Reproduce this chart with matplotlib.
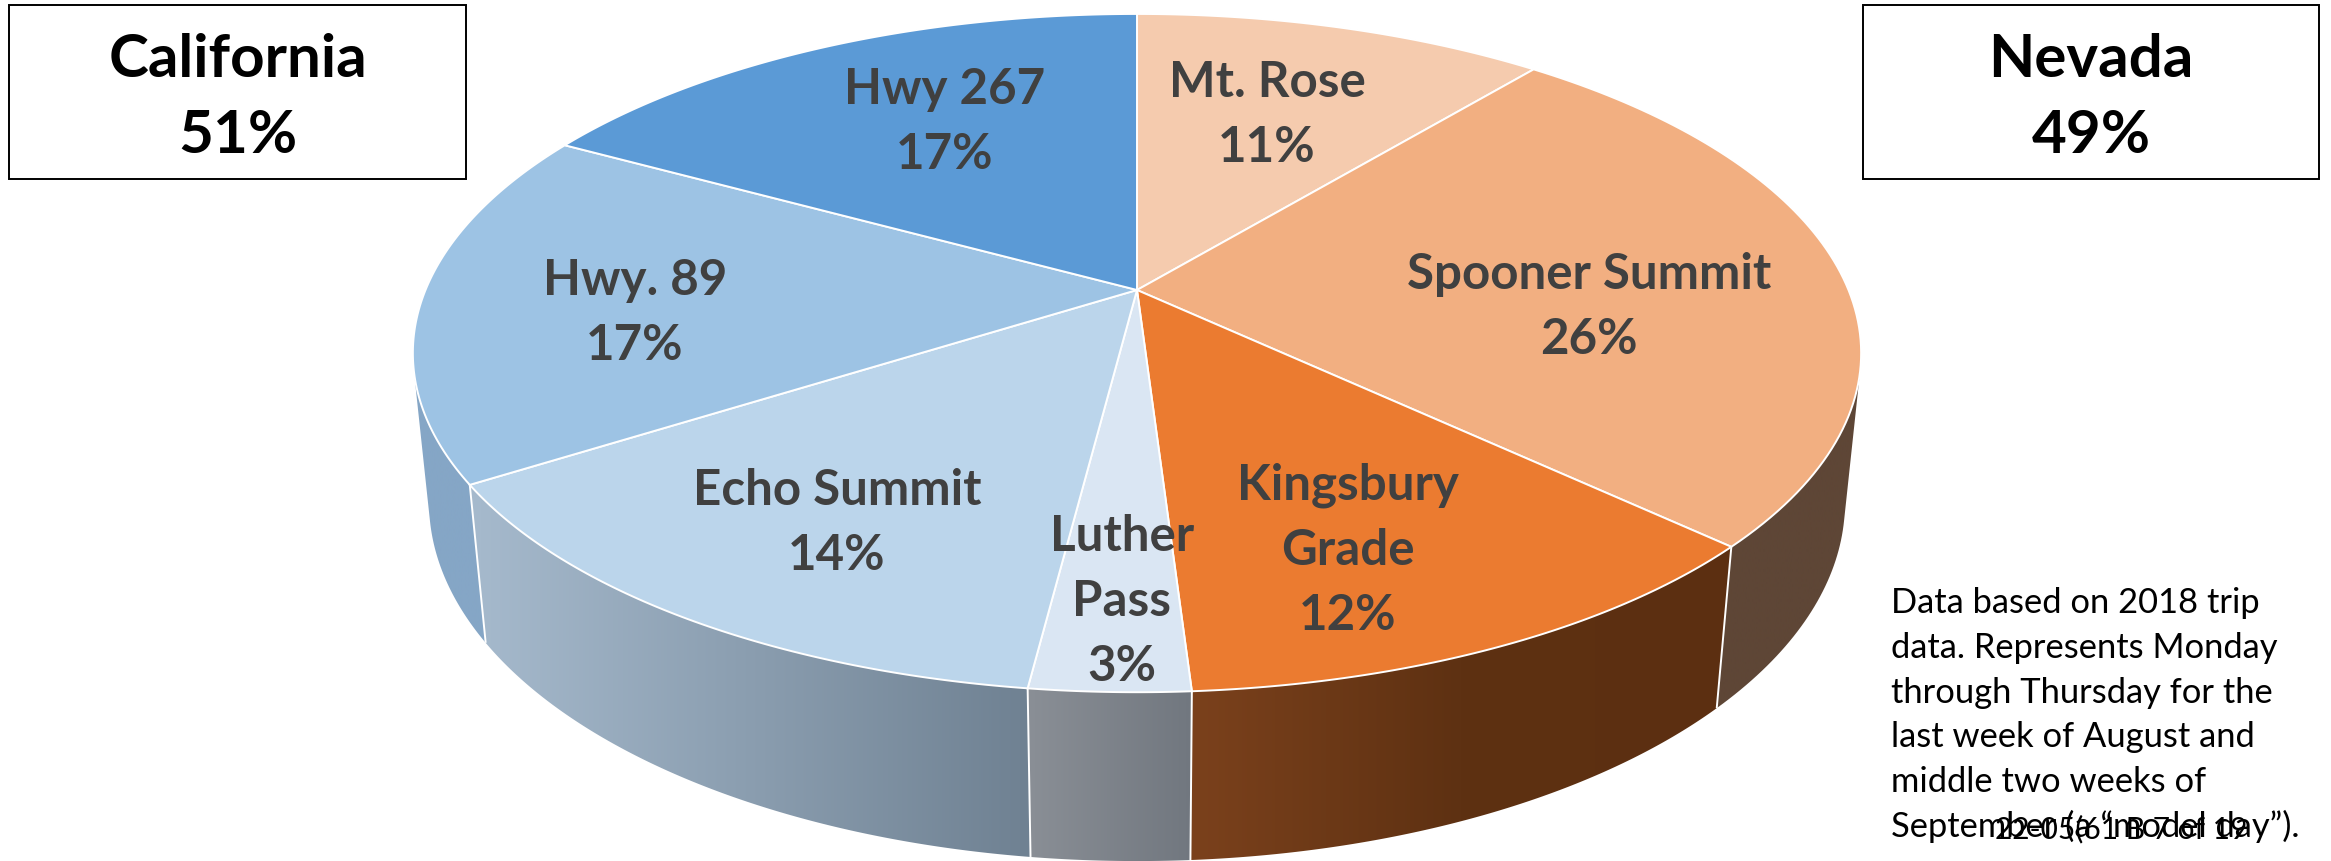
import numpy as np
import matplotlib
matplotlib.use("Agg")
import matplotlib.pyplot as plt
from matplotlib.colors import LinearSegmentedColormap
from matplotlib.patches import Polygon, Rectangle

# ---- data ----
routes = ["Mt. Rose", "Spooner Summit", "Kingsbury\nGrade", "Luther\nPass",
          "Echo Summit", "Hwy. 89", "Hwy 267"]
shares = [11, 26, 12, 3, 14, 17, 17]
state_names = ["California", "Nevada"]
state_shares = [51, 49]
note_lines = ["Data based on 2018 trip", "data. Represents Monday",
              "through Thursday for the", "last week of August and",
              "middle two weeks of", "September (a \u201cmodel day\u201d)."]
page_mark = "22-05(61 B 7 of 19"

# ---- styles ----
top_colors = ["#F5CBAE", "#F2AF81", "#EB7B30", "#DAE6F3", "#BBD5EB", "#9DC3E4", "#5B9AD6"]
wall_colors = [("#5E4636", "#5E4636"), ("#5E4636", "#5E4636"),
               ("#7B411C", "#5E3112", "#5C2F11"), ("#8A8F96", "#71777F"),
               ("#A6BACD", "#6F8192"), ("#85A6C6", "#85A6C6"), ("#85A6C6", "#85A6C6")]
label_xy = [(1267, 97), (1589, 289), (1348, 500), (1122, 551), (837, 505), (635, 295), (945, 104)]
wall_order = [6, 0, 1, 5, 2, 4, 3]
CX, CY, AX, AY, K, DROP, DW = 1137.0, 291.0, 711.5, 327.4, 0.186, 150.0, 0.022
LABEL_FS, BOX_FS, NOTE_FS, MARK_FS = 35.5, 43.3, 24.8, 21.5
plt.rcParams["font.family"] = ["Lato", "DejaVu Sans"]


def project(frac, bottom=False):
    """Perspective view of a disc; frac is the clockwise share from 12 o'clock."""
    th = 2 * np.pi * np.asarray(frac)
    u, v = np.sin(th), np.cos(th)
    w = 1 + K * v
    if bottom:
        return CX + AX * u / (w + DW), CY + (-AY * v + DROP) / (w + DW)
    return CX + AX * u / w, CY - AY * v / w


def hull(points):
    pts = sorted(map(tuple, points))
    def half(seq):
        out = []
        for p in seq:
            while len(out) > 1 and ((out[-1][0] - out[-2][0]) * (p[1] - out[-2][1])
                                    - (out[-1][1] - out[-2][1]) * (p[0] - out[-2][0])) <= 0:
                out.pop()
            out.append(p)
        return out[:-1]
    return np.array(half(pts) + half(pts[::-1]))


fig = plt.figure(figsize=(23.31, 8.62), dpi=100)
ax = fig.add_axes([0, 0, 1, 1])
ax.axis("off")

edges = np.cumsum([0] + shares) / sum(shares)

# side walls, back to front
for i in wall_order:
    f = np.linspace(edges[i], edges[i + 1], 120)
    xt, yt = project(f)
    xb, yb = project(f, True)
    outline = hull(np.c_[np.r_[xt, xb], np.r_[yt, yb]])
    patch = Polygon(outline, closed=True, fc="none", ec="none", zorder=1 + 0.01 * wall_order.index(i))
    ax.add_patch(patch)
    cmap = LinearSegmentedColormap.from_list(f"w{i}", wall_colors[i])
    grad = np.linspace(0, 1, 256)[None, :]
    xl, xr = min(xt.min(), xb.min()), max(xt.max(), xb.max())
    im = ax.imshow(grad, cmap=cmap, extent=(xl, xr, outline[:, 1].max(), outline[:, 1].min()),
                   aspect="auto", zorder=1 + 0.01 * wall_order.index(i), interpolation="bilinear")
    im.set_clip_path(patch)

# white seams on the visible wall joints
for e in edges[2:6]:
    xt, yt = project(e)
    xb, yb = project(e, True)
    ax.plot([xt, xb], [yt, yb], color="white", lw=1.4, zorder=2, solid_capstyle="butt")

# top face
for i in range(len(shares)):
    f = np.linspace(edges[i], edges[i + 1], 90)
    xt, yt = project(f)
    ax.add_patch(Polygon(np.c_[np.r_[CX, xt], np.r_[CY, yt]], closed=True,
                         fc=top_colors[i], ec="white", lw=1.4, joinstyle="miter", zorder=3))

# slice labels
for name, val, (x, y) in zip(routes, shares, label_xy):
    lines = name.split("\n") + [f"{val}%"]
    for j, s in enumerate(lines):
        ax.text(x, y + j * 65, s, fontsize=LABEL_FS, fontweight="bold", color="#404040",
                ha="center", va="baseline", zorder=5)

# state boxes
for name, val, (x0, x1) in zip(state_names, state_shares, [(9, 466), (1863, 2319)]):
    ax.add_patch(Rectangle((x0, 6), x1 - x0, 174, fc="white", ec="black", lw=1.4, zorder=4))
    ax.text((x0 + x1) / 2, 77, name, fontsize=BOX_FS, fontweight="bold", color="black",
            ha="center", va="baseline", zorder=5)
    ax.text((x0 + x1) / 2, 153, f"{val}%", fontsize=BOX_FS, fontweight="bold", color="black",
            ha="center", va="baseline", zorder=5)

# footnote and overprinted page mark
for j, s in enumerate(note_lines):
    ax.text(1891, 613 + j * 44.8, s, fontsize=NOTE_FS, color="black", ha="left", va="baseline", zorder=5)
ax.text(1995, 838, page_mark, fontsize=MARK_FS, color="black", ha="left", va="baseline", zorder=6)

ax.set_xlim(0, 2331)
ax.set_ylim(862, 0)
fig.savefig("out.png", dpi=100, facecolor="white")
